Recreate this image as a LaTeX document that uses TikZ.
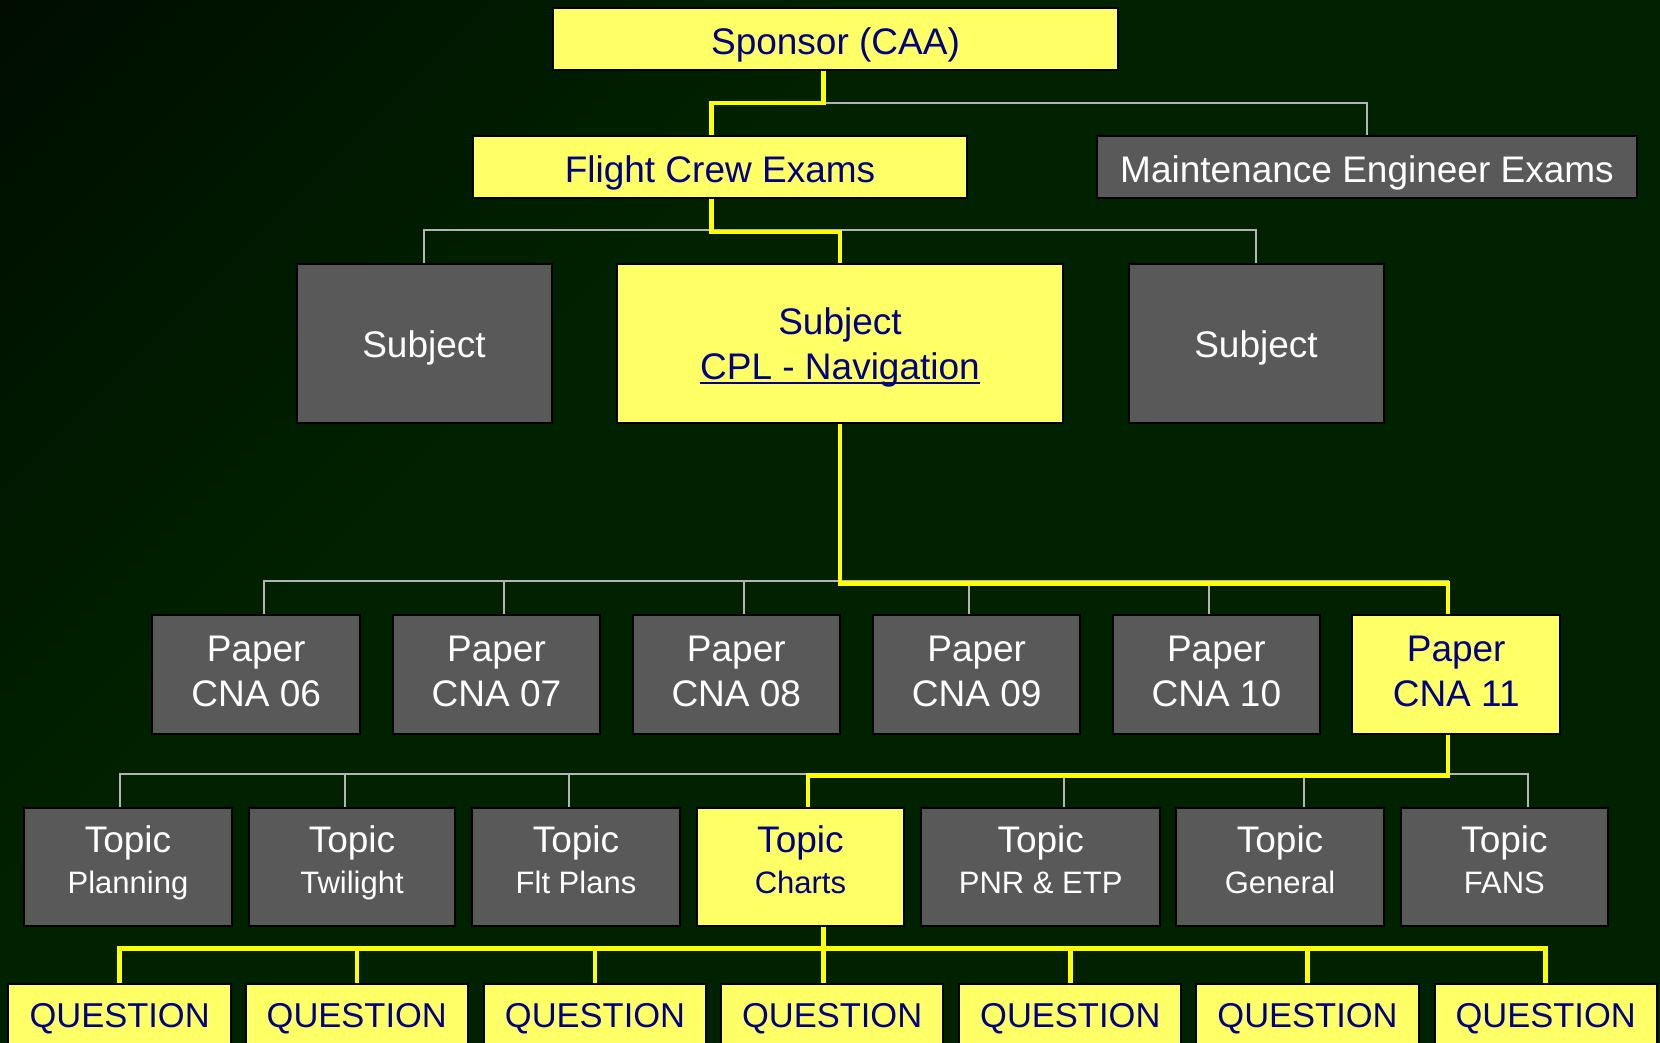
\documentclass[tikz,border=0pt]{standalone}
\usepackage{fontspec}
\setmainfont{Liberation Sans}
\usetikzlibrary{calc}
\definecolor{bggreen}{HTML}{002200}
\definecolor{boxyellow}{HTML}{FFFF66}
\definecolor{boxgrey}{HTML}{595959}
\definecolor{txtnavy}{HTML}{000080}
\definecolor{linegrey}{HTML}{B4B4B4}
\definecolor{lineyellow}{HTML}{FFFF00}
\pgfdeclarehorizontalshading{bgfade}{100bp}{color(0bp)=(black); color(38bp)=(bggreen); color(100bp)=(bggreen)}
\newcommand{\navline}[1]{\setbox0\hbox{#1}\rlap{\rule[-4.5pt]{\wd0}{2.5pt}}\box0}

\begin{document}
\begin{tikzpicture}[x=1pt,y=-1pt,
  box/.style={draw=black, line width=2pt, inner sep=0pt, align=center, text height=30pt, text depth=0pt, font=\fontsize{37}{45}\selectfont},
  hibox/.style={box, fill=boxyellow, text=txtnavy},
  lobox/.style={box, fill=boxgrey, text=white},
  paperbox/.style={minimum width=207.5pt, minimum height=118.6pt, text height=65pt},
  topicbox/.style={minimum width=207.5pt, minimum height=118.6pt, text height=52pt},
  questbox/.style={hibox, font=\fontsize{34.5}{40}\selectfont, minimum width=222.3pt, minimum height=62pt, text height=26.5pt},
  greyline/.style={draw=linegrey, line width=2pt},
  yelline/.style={draw=lineyellow, line width=4.5pt}]
\clip (0,0) rectangle (1660,1042);
\shade[shading=bgfade, shading angle=-45] (0,0) rectangle (1660,1042);

% top levels
\node[hibox, minimum width=565pt, minimum height=62pt] (sponsor) at (835.5,39) {Sponsor (CAA)};
\node[hibox, minimum width=494pt, minimum height=62pt] (fce) at (720,167) {Flight Crew Exams};
\node[lobox, minimum width=540pt, minimum height=62pt] (mee) at (1367,167) {Maintenance Engineer Exams};

\node[lobox, minimum width=255pt, minimum height=159pt, text height=29pt] (subjL) at (424,343) {Subject};
\node[hibox, minimum width=446pt, minimum height=159pt, text height=73pt] (cpl) at (840,343) {Subject\\\navline{CPL - Navigation}};
\node[lobox, minimum width=255pt, minimum height=159pt, text height=29pt] (subjR) at (1256,343) {Subject};

% papers
\node[lobox, paperbox] (p06) at (256.2,674.4) {Paper\\CNA 06};
\node[lobox, paperbox] (p07) at (496.5,674.4) {Paper\\CNA 07};
\node[lobox, paperbox] (p08) at (736.3,674.4) {Paper\\CNA 08};
\node[lobox, paperbox] (p09) at (976.7,674.4) {Paper\\CNA 09};
\node[lobox, paperbox] (p10) at (1216.4,674.4) {Paper\\CNA 10};
\node[hibox, paperbox] (p11) at (1456.2,674.4) {Paper\\CNA 11};

% topics
\node[lobox, topicbox] (t1) at (128,867) {Topic\\[-4pt]{\fontsize{31}{37}\selectfont Planning}};
\node[lobox, topicbox, minimum width=206.4pt] (t2) at (352,867) {Topic\\[-4pt]{\fontsize{31}{37}\selectfont Twilight}};
\node[lobox, topicbox] (t3) at (576,867) {Topic\\[-4pt]{\fontsize{31}{37}\selectfont Flt Plans}};
\node[hibox, topicbox] (t4) at (800.4,867) {Topic\\[-4pt]{\fontsize{31}{37}\selectfont Charts}};
\node[lobox, topicbox, minimum width=239pt] (t5) at (1040.7,867) {Topic\\[-4pt]{\fontsize{31}{37}\selectfont PNR \& ETP}};
\node[lobox, topicbox] (t6) at (1280,867) {Topic\\[-4pt]{\fontsize{31}{37}\selectfont General}};
\node[lobox, topicbox] (t7) at (1504.4,867) {Topic\\[-4pt]{\fontsize{31}{37}\selectfont FANS}};

% questions
\node[questbox] (q1) at (119.6,1014.5) {QUESTION};
\node[questbox] (q2) at (356.8,1014.5) {QUESTION};
\node[questbox] (q3) at (595,1014.5) {QUESTION};
\node[questbox] (q4) at (832.1,1014.5) {QUESTION};
\node[questbox] (q5) at (1070.3,1014.5) {QUESTION};
\node[questbox] (q6) at (1307.5,1014.5) {QUESTION};
\node[questbox] (q7) at (1545.7,1014.5) {QUESTION};

% grey branches
\draw[greyline] ([xshift=-12pt]sponsor.south) -- ++(0,32) -| (mee.north);
\draw[greyline] (subjL.north) -- ++(0,-33) -| (subjR.north);
\draw[greyline] ([xshift=7.4pt]p06.north) -- ++(0,-33) -| ([xshift=-8pt]p11.north);
\draw[greyline] ([xshift=7.4pt]p07.north) -- ++(0,-33) ([xshift=7.4pt]p08.north) -- ++(0,-33)
  ([xshift=-7.4pt]p09.north) -- ++(0,-33) ([xshift=-7.4pt]p10.north) -- ++(0,-33);
\draw[greyline] ([xshift=-8.5pt]t1.north) -- ++(0,-33) -| ([xshift=23.3pt]t7.north);
\draw[greyline] ([xshift=-7.5pt]t2.north) -- ++(0,-33) ([xshift=-7.5pt]t3.north) -- ++(0,-33)
  ([xshift=23.3pt]t5.north) -- ++(0,-33) ([xshift=24pt]t6.north) -- ++(0,-33);

% yellow path
\draw[yelline] ([xshift=-12pt]sponsor.south) -- ++(0,32) -| ([xshift=-8.5pt]fce.north);
\draw[yelline] ([xshift=-8.5pt]fce.south) -- ++(0,33) -| (cpl.north);
\draw[yelline] (cpl.south) -- ++(0,160) -| ([xshift=-8pt]p11.north);
\draw[yelline] ([xshift=-8pt]p11.south) -- ++(0,41) -| ([xshift=7.4pt]t4.north);
\draw[yelline] ([xshift=23pt]t4.south) -- ([xshift=23pt]t4.south |- q4.north);
\draw[yelline] (q1.north) -- ++(0,-34) -| (q7.north);
\draw[yelline] (q2.north) -- ++(0,-34) (q3.north) -- ++(0,-34) (q5.north) -- ++(0,-34) (q6.north) -- ++(0,-34);
\end{tikzpicture}
\end{document}
